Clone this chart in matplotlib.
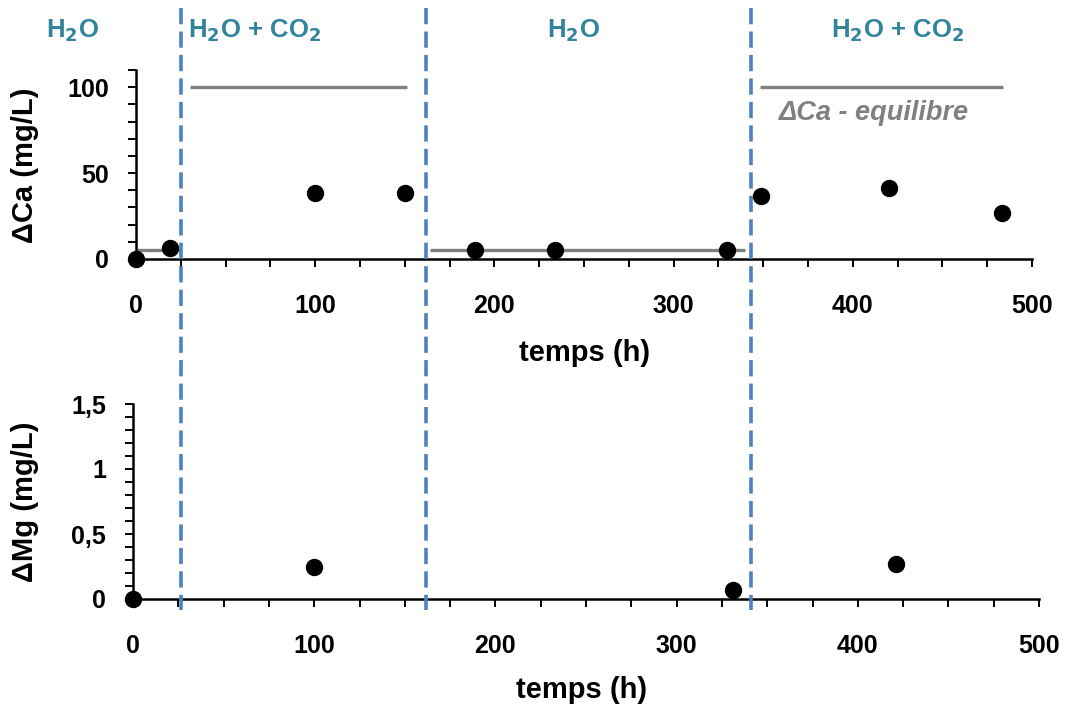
import matplotlib
matplotlib.use("Agg")
import matplotlib.pyplot as plt
from matplotlib.lines import Line2D
from matplotlib.ticker import MultipleLocator, FuncFormatter
from matplotlib.transforms import blended_transform_factory

plt.rcParams['font.family'] = ['Liberation Sans', 'DejaVu Sans']

# Data
ca_time = [0, 19, 100, 150, 189, 234, 330, 349, 420, 483]
ca_val = [0, 6.5, 38.5, 38.5, 5.5, 5.2, 5.2, 36.5, 41.5, 27]
mg_time = [0, 100, 331, 421]
mg_val = [0, 0.245, 0.07, 0.27]
eq_start = [0, 30, 164, 348]
eq_end = [25, 151, 340, 484]
eq_val = [5, 100, 5, 100]
phase_bounds = [25, 162, 343]
phase_labels = ["H$_\\mathbf{2}$O", "H$_\\mathbf{2}$O + CO$_\\mathbf{2}$", "H$_\\mathbf{2}$O", "H$_\\mathbf{2}$O + CO$_\\mathbf{2}$"]
phase_label_x = [-35.5, 66, 244, 425]

teal = "#31849B"
blue = "#4F81BD"
gray = "#808080"

W, H = 1066, 709
fig = plt.figure(figsize=(W / 100, H / 100), dpi=100)
ax1 = fig.add_axes([136 / W, 1 - 259 / H, 896 / W, (259 - 70) / H])
ax2 = fig.add_axes([133 / W, 1 - 599 / H, 906 / W, (599 - 404) / H])

TICK_FS = 18
LAB_FS = 21

def style(ax):
    for s in ['top', 'right']:
        ax.spines[s].set_visible(False)
    for s in ['left', 'bottom']:
        ax.spines[s].set_linewidth(1.8)
    ax.tick_params(axis='both', which='both', direction='out', width=1.4, length=5.5,
                   labelsize=TICK_FS)
    ax.tick_params(axis='x', pad=20)
    ax.tick_params(axis='y', pad=14)
    for lab in ax.get_xticklabels() + ax.get_yticklabels():
        lab.set_fontweight('bold')
    ax.set_xlim(0, 500)
    ax.xaxis.set_major_locator(MultipleLocator(100))
    ax.xaxis.set_minor_locator(MultipleLocator(25))

# Top panel
for s, e, v in zip(eq_start, eq_end, eq_val):
    ax1.plot([s, e], [v, v], color=gray, lw=2.4, solid_capstyle='butt', zorder=2)
ax1.plot(ca_time, ca_val, 'o', color='black', ms=11.5, clip_on=False, zorder=5)
ax1.set_ylim(0, 110)
ax1.set_yticks([0, 50, 100])
ax1.yaxis.set_minor_locator(MultipleLocator(10))
style(ax1)
ax1.text(359, 85, "ΔCa - equilibre", color=gray, fontsize=19.5, fontweight='bold',
         fontstyle='italic', ha='left', va='center')

# Bottom panel
ax2.plot(mg_time, mg_val, 'o', color='black', ms=11.5, clip_on=False, zorder=5)
ax2.set_ylim(0, 1.5)
ax2.set_yticks([0, 0.5, 1, 1.5])
ax2.yaxis.set_minor_locator(MultipleLocator(0.1))
ax2.yaxis.set_major_formatter(FuncFormatter(lambda v, p: ("%g" % v).replace('.', ',')))
style(ax2)

# Axis labels
fig.text(25 / W, 1 - 165 / H, "ΔCa (mg/L)", rotation=90, fontsize=LAB_FS, fontweight='bold',
         ha='center', va='center')
fig.text(25 / W, 1 - 502 / H, "ΔMg (mg/L)", rotation=90, fontsize=LAB_FS, fontweight='bold',
         ha='center', va='center')
fig.text(585 / W, 1 - 353 / H, "temps (h)", fontsize=LAB_FS, fontweight='bold',
         ha='center', va='center')
fig.text(582 / W, 1 - 690 / H, "temps (h)", fontsize=LAB_FS, fontweight='bold',
         ha='center', va='center')

# Phase boundaries spanning the figure
tr = blended_transform_factory(ax1.transData, fig.transFigure)
for xb in phase_bounds:
    fig.add_artist(Line2D([xb, xb], [1 - 8 / H, 1 - 610 / H], transform=tr, color=blue, lw=2.6,
                          linestyle=(0, (4.5, 2.0)), zorder=10))

for lx, lt in zip(phase_label_x, phase_labels):
    fig.text(lx, 1 - 31 / H, lt, transform=tr, color=teal, fontsize=18.5, fontweight='bold',
             ha='center', va='center')

fig.savefig("out.png", dpi=100)
